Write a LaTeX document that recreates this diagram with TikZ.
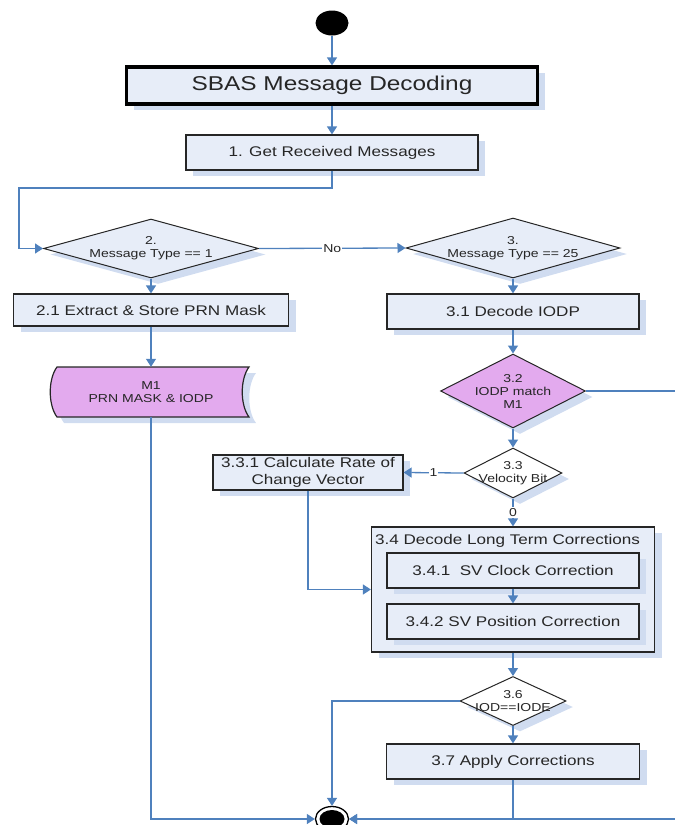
\documentclass[tikz,border=0pt]{standalone}
\usepackage{fontspec}
\setmainfont{Liberation Sans}[FakeStretch=1.22]
\usetikzlibrary{arrows.meta,shapes.geometric,shadows}
\definecolor{boxfill}{RGB}{231,237,248}
\definecolor{boxshade}{RGB}{208,220,240}
\definecolor{memfill}{RGB}{227,170,238}
\definecolor{flowblue}{RGB}{79,129,189}
\definecolor{inkgray}{RGB}{38,38,38}
\begin{document}
\begin{tikzpicture}[x=1pt, y=-1pt, >={Triangle[length=8pt, width=10pt]},
	every node/.style={text=inkgray, font=\fontsize{14pt}{17pt}\selectfont, align=center, inner sep=0pt},
	boxshadow/.style={drop shadow={shadow xshift=7pt, shadow yshift=-6pt, fill=boxshade, opacity=1}},
	box/.style={rectangle, draw=inkgray, line width=1.2pt, fill=boxfill, boxshadow},
	decision/.style={diamond, draw=inkgray, line width=1pt, fill=boxfill, boxshadow},
	dtext/.style={font=\fontsize{11.5pt}{13pt}\selectfont},
	flow/.style={draw=flowblue, line width=1.3pt, ->},
	wire/.style={draw=flowblue, line width=1.3pt}]
	\useasboundingbox (0,0) rectangle (675,825);
	\node[ellipse, fill=black, minimum width=33pt, minimum height=25pt] (start) at (332,23) {};
	\node[box, draw=black, line width=3.2pt, minimum width=411pt, minimum height=37pt, font=\fontsize{20pt}{24pt}\selectfont] (title) at (332,85.5) {SBAS Message Decoding};
	\node[box, minimum width=292pt, minimum height=35pt] (get) at (332,152.5) {1. Get Received Messages};
	\node[decision, minimum width=215pt, minimum height=59pt, label={[dtext]center:{2.\\Message Type == 1}}] (type1) at (151,248.5) {};
	\node[decision, minimum width=214pt, minimum height=60pt, label={[dtext]center:{3.\\Message Type == 25}}] (type25) at (513,248) {};
	\node[box, minimum width=275pt, minimum height=32pt] (mask) at (151,310) {2.1 Extract \& Store PRN Mask};
	\node[box, minimum width=252pt, minimum height=35pt] (iodp) at (513,311.5) {3.1 Decode IODP};
	\draw[boxshadow, fill=memfill, draw=inkgray, line width=1.2pt] (57,367) -- (249,367) .. controls (240,379) and (240,405) .. (249,417) -- (57,417) .. controls (48,405) and (48,379) .. (57,367) -- cycle;
	\node[dtext, minimum width=200pt, minimum height=50pt] (m1) at (151,392) {M1\\PRN MASK \& IODP};
	\node[decision, fill=memfill, minimum width=145pt, minimum height=74pt, label={[dtext]center:{3.2\\IODP match\\M1}}] (match) at (513,391) {};
	\node[decision, fill=white, minimum width=98pt, minimum height=50pt, label={[dtext]center:{3.3\\Velocity Bit}}] (vel) at (513,473) {};
	\node[box, minimum width=190pt, minimum height=35pt] (rate) at (308,472.5) {3.3.1 Calculate Rate of\\Change Vector};
	\node[box, minimum width=283pt, minimum height=125pt] (ltc) at (513,589.5) {};
	\node[anchor=north west] (ltctitle) at ([shift={(4pt,-8pt)}]ltc.north west) {3.4 Decode Long Term Corrections};
	\node[box, minimum width=252pt, minimum height=35pt] (clock) at (513,570.5) {3.4.1\ \ SV Clock Correction};
	\node[box, minimum width=252pt, minimum height=35pt] (posn) at (513,621.5) {3.4.2 SV Position Correction};
	\node[decision, fill=white, minimum width=106pt, minimum height=49pt, label={[dtext]center:{3.6\\IOD==IODE}}] (iode) at (513,701) {};
	\node[box, minimum width=253pt, minimum height=35pt] (apply) at (513,761.5) {3.7 Apply Corrections};
	\node[ellipse, draw=black, line width=1.3pt, fill=white, minimum width=33pt, minimum height=25pt] (stop) at (332,819) {};
	\fill (stop.center) ellipse [x radius=12.5pt, y radius=9pt];
	\coordinate (back) at (19,188);
	\coordinate (offR) at (675,391);
	\coordinate (offB) at (675,819);
	\draw[flow] (start) -- (title);
	\draw[flow] (title) -- (get);
	\draw[flow] (get.south) |- (back) |- (type1.west);
	\draw[flow] (type1.east) -- node[dtext, fill=white, inner sep=1pt] (no) {No} (type25.west);
	\draw[flow] (type1) -- (mask);
	\draw[flow] (type25) -- (iodp);
	\draw[flow] (mask) -- (m1);
	\draw[flow] (iodp) -- (match);
	\draw[wire] (match.east) -- (offR);
	\draw[flow] (match) -- (vel);
	\draw[flow] (vel.west) -- node[dtext, fill=white, inner sep=1pt] (one) {1} (rate.east);
	\draw[flow] (vel.south) -- node[dtext, fill=white, inner sep=1pt] (zero) {0} (ltc.north);
	\draw[flow] (rate.south) |- (ltc.west);
	\draw[flow] (clock) -- (posn);
	\draw[flow] (ltc) -- (iode);
	\draw[flow] (iode.west) -| (stop.north);
	\draw[flow] (iode) -- (apply);
	\draw[flow] (apply.south) |- (stop.east);
	\draw[flow] (offB) -- (stop.east);
	\draw[flow] (m1.south) |- (stop.west);
\end{tikzpicture}
\end{document}
